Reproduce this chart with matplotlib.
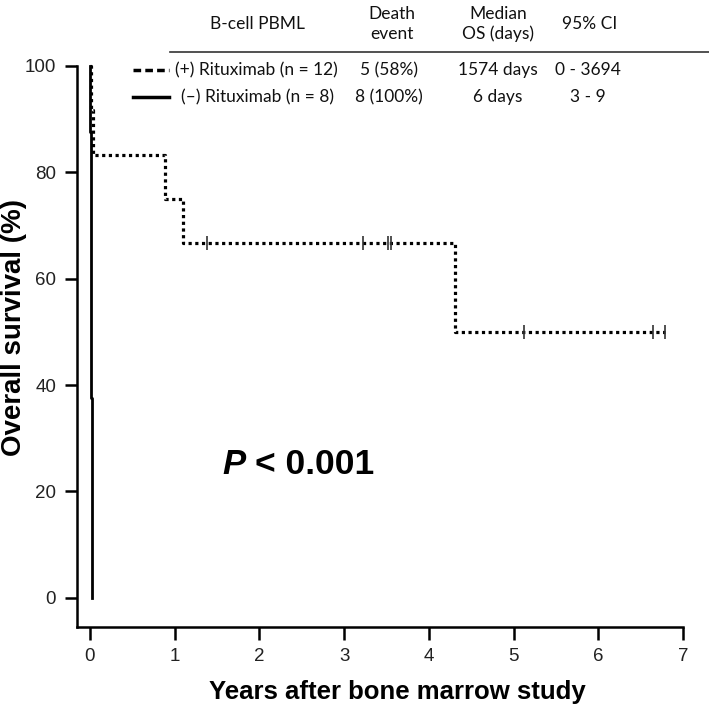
import numpy as np
import matplotlib
matplotlib.use("Agg")
from matplotlib import pyplot as plt
from matplotlib.lines import Line2D

# follow-up in years, 1 = death, 0 = censored
ritux_time = [0.01, 0.03, 0.885, 1.10, 1.38, 3.22, 3.52, 3.55, 4.31, 5.12, 6.65, 6.79]
ritux_event = [1, 1, 1, 1, 0, 0, 0, 0, 1, 0, 0, 0]
noritux_days = [2, 3, 4, 6, 6, 8, 9, 10]
noritux_time = [d / 365.25 for d in noritux_days]
noritux_event = [1, 1, 1, 1, 1, 1, 1, 1]

header = ["B-cell PBML", "Death\nevent", "Median\nOS (days)", "95% CI"]
row_plus = ["(+) Rituximab (n = 12)", "5 (58%)", "1574 days", "0 - 3694"]
row_minus = ["(\u2013) Rituximab (n = 8)", "8 (100%)", "6 days", "3 - 9"]
p_text = "< 0.001"
xticks = [0, 1, 2, 3, 4, 5, 6, 7]
yticks = [0, 20, 40, 60, 80, 100]


def km(times, events):
    times = np.array(times)
    events = np.array(events)
    order = np.argsort(times)
    times, events = times[order], events[order]
    n = len(times)
    s = 100.0
    xs, ys = [0.0], [100.0]
    cx, cy = [], []
    for i, (t, e) in enumerate(zip(times, events)):
        at_risk = n - i
        if e:
            s = s * (1 - 1 / at_risk)
            xs.append(t)
            ys.append(s)
        else:
            cx.append(t)
            cy.append(s)
    xs.append(times[-1])
    ys.append(s)
    return xs, ys, cx, cy


fig = plt.figure(figsize=(7.09, 7.07), dpi=100)
ax = fig.add_axes([77 / 709, 1 - 627 / 707, 606 / 709, 561 / 707])

x1, y1, cx1, cy1 = km(ritux_time, ritux_event)
ax.step(x1, y1, where="post", color="black", lw=2.3,
        linestyle=(0, (1, 1.1)), dash_capstyle="butt", clip_on=False)
ax.plot(cx1, cy1, linestyle="none", marker="|", ms=10, mew=1.2, color="#333333")

x2, y2, _, _ = km(noritux_time, noritux_event)
ax.step(x2, y2, where="post", color="black", lw=2.0, clip_on=False)

ax.set_xlim(-0.153, 7)
ax.set_ylim(-5.5, 100)
ax.set_xticks(xticks)
ax.set_yticks(yticks)
for s in ["top", "right"]:
    ax.spines[s].set_visible(False)
for s in ["left", "bottom"]:
    ax.spines[s].set_linewidth(1.8)
ax.tick_params(axis="both", direction="out", length=9, width=1.8,
               labelsize=13.5, colors="black", labelcolor="#222222", pad=6)
for lab in ax.get_xticklabels() + ax.get_yticklabels():
    lab.set_family("Liberation Sans")

ax.set_xlabel("Years after bone marrow study", fontsize=18.5, fontweight="bold",
              family="Liberation Sans")
ax.set_ylabel("Overall survival (%)", fontsize=20, fontweight="bold",
              family="Liberation Sans")
ax.xaxis.set_label_coords(0.528, -0.094)
ax.yaxis.set_label_coords(-0.083, 0.533)

fig.text(222 / 709, 1 - 465 / 707, "P", fontsize=25, fontweight="bold",
         fontstyle="italic", family="Liberation Sans", va="center", ha="left")
fig.text(255 / 709, 1 - 465 / 707, p_text, fontsize=25.5, fontweight="bold",
         family="Liberation Sans", va="center", ha="left")

# table-style legend at top
tf = dict(fontsize=12.5, family=["Lato", "DejaVu Sans"], ha="center", va="center",
          color="#111111")
col_x = [257, 392, 498, 590]
for xpos, txt in zip(col_x, header):
    fig.text(xpos / 709, 1 - 24 / 707, txt, linespacing=1.25, **tf)
fig.add_artist(Line2D([170 / 709, 1.0], [1 - 52 / 707] * 2, color="#333333", lw=1.2))

data_x = [None, 389, 498, 588]
for row, ypix, x0 in [(row_plus, 70, 175), (row_minus, 97, 181)]:
    fig.text(x0 / 709, 1 - ypix / 707, row[0], **{**tf, "ha": "left"})
    for xpos, txt in zip(data_x[1:], row[1:]):
        fig.text(xpos / 709, 1 - ypix / 707, txt, **tf)

fig.add_artist(Line2D([133 / 709, 169 / 709], [1 - 70 / 707] * 2, color="black",
                      lw=2.5, linestyle=(0, (2.2, 1.2))))
fig.add_artist(Line2D([133 / 709, 169 / 709], [1 - 97 / 707] * 2, color="black", lw=2.5))

fig.savefig("out.png", dpi=100)
